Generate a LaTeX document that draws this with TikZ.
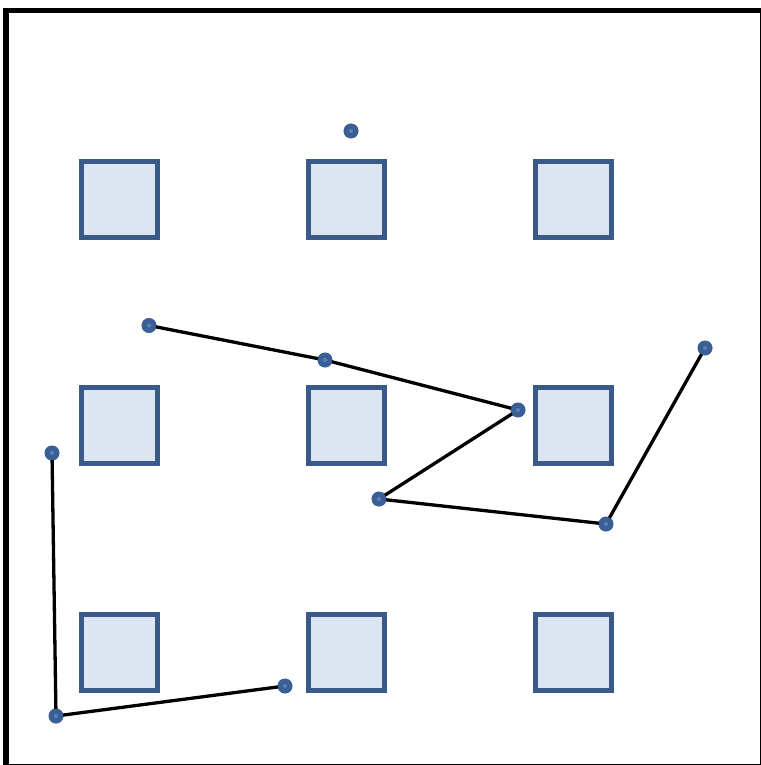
\documentclass[tikz,border=0pt]{standalone}
\definecolor{sqedge}{HTML}{3A5A8A}
\definecolor{sqfill}{HTML}{DCE5F1}
\definecolor{dotc}{HTML}{3A5F95}
\definecolor{dotin}{HTML}{5A82B8}
\tikzset{
  cell/.style={draw=sqedge, fill=sqfill, line width=5pt, minimum size=76pt, inner sep=0pt, shape=rectangle},
  pt/.style={circle, fill=dotc, minimum size=15pt, inner sep=0pt},
  link/.style={line width=3.3pt, black},
}
\begin{document}
\begin{tikzpicture}[x=1pt,y=-1pt]
\useasboundingbox (0,0) rectangle (760,765);
\draw[line width=5.5pt] (6,10.5) rectangle (762.5,766.5);
% squares
\foreach \i/\x in {1/119.5,2/346,3/573}{
  \foreach \j/\y in {1/199,2/425.5,3/652.5}{
    \node[cell] (s\i\j) at (\x,\y) {};
  }
}
% points
\node[pt] (p0) at (351,131) {};
\node[pt] (a1) at (149,325.5) {};
\node[pt] (a2) at (325,360) {};
\node[pt] (a3) at (518,410) {};
\node[pt] (a4) at (379,499) {};
\node[pt] (a5) at (606,524) {};
\node[pt] (a6) at (705,348) {};
\node[pt] (b1) at (52,453) {};
\node[pt] (b2) at (56,716) {};
\node[pt] (b3) at (285,686) {};
\draw[link] (a1.center) -- (a2.center) -- (a3.center) -- (a4.center) -- (a5.center) -- (a6.center);
\draw[link] (b1.center) -- (b2.center) -- (b3.center);
\foreach \n in {p0,a1,a2,a3,a4,a5,a6,b1,b2,b3}{
  \fill[dotc] (\n.center) circle (7.2pt);
  \fill[dotin] (\n.center) circle (2pt);
}
\end{tikzpicture}
\end{document}
